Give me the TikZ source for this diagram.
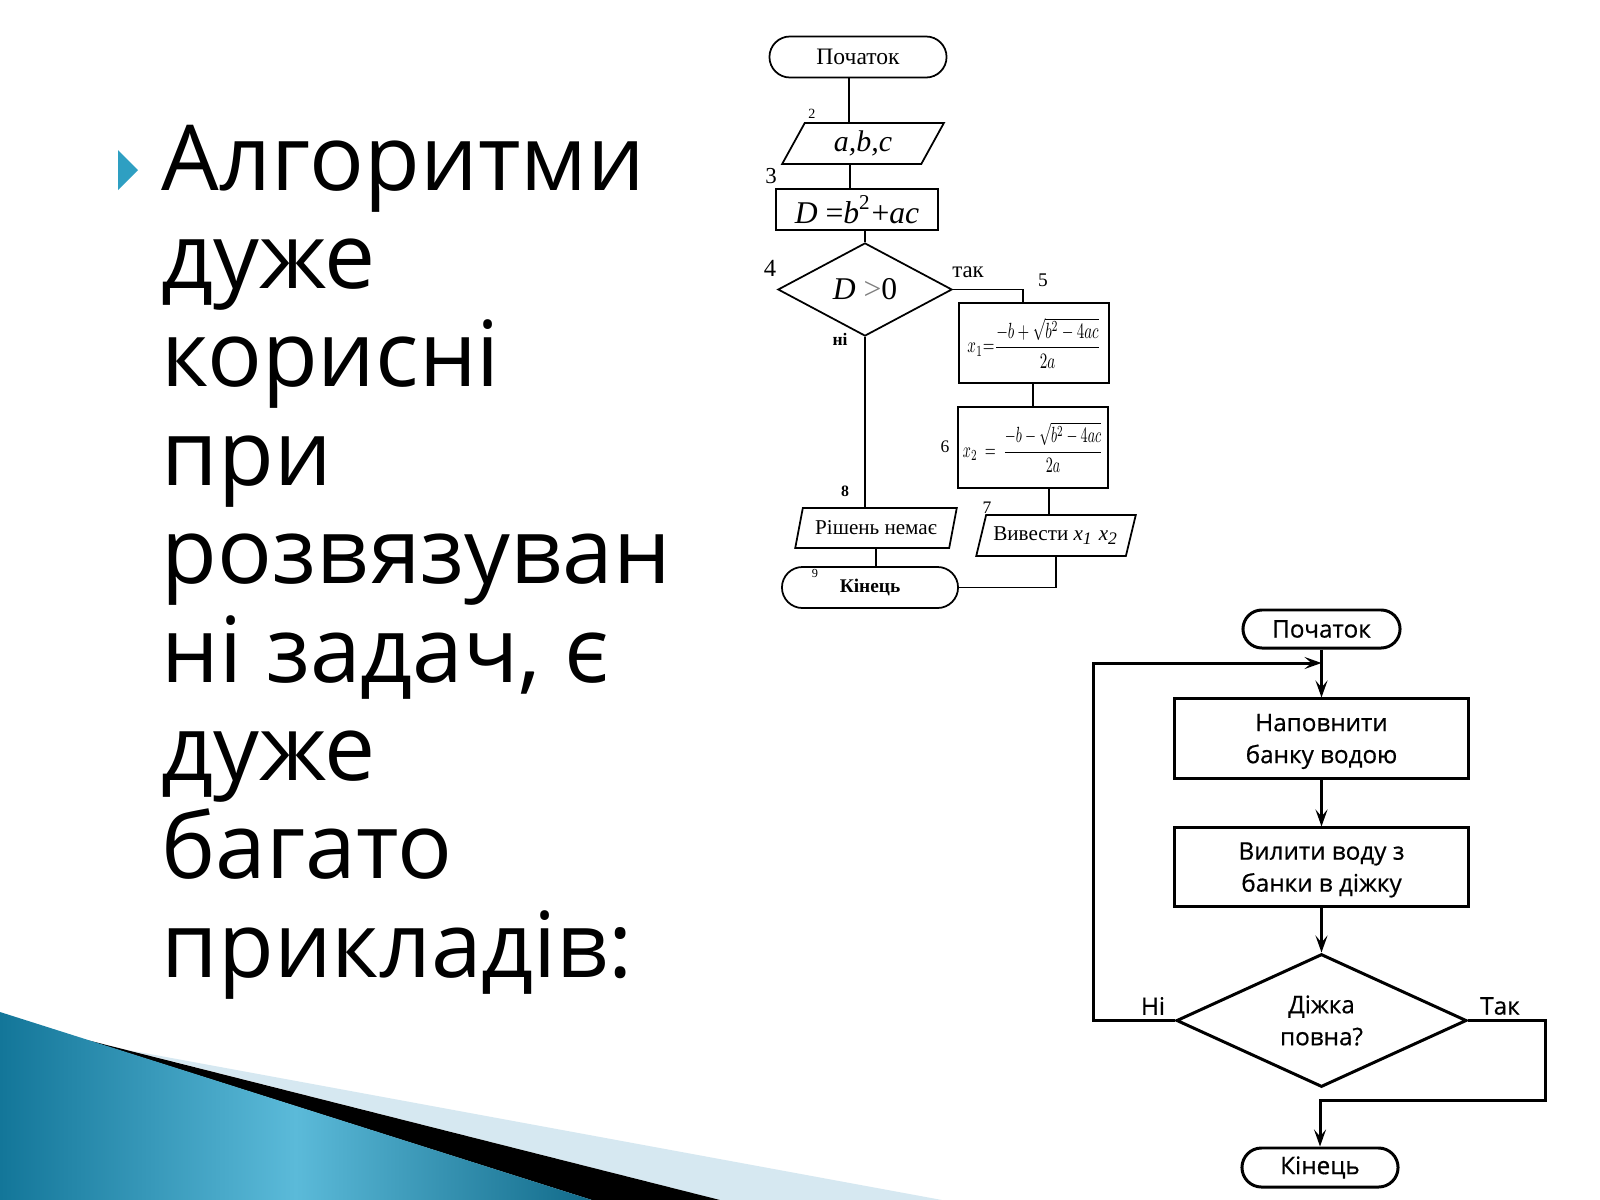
\documentclass[tikz,border=0pt]{standalone}
\usepackage{fontspec}
\setmainfont{Liberation Serif}
\newfontfamily\osans{Open Sans}
\newfontfamily\osansb{Open Sans}[FakeBold=0.6]
\usepackage{graphicx}
\usetikzlibrary{shapes.geometric,shapes.misc,arrows.meta,calc}
\definecolor{bulletc}{HTML}{2E9FC2}
\definecolor{swlight}{HTML}{D6E8F1}
\definecolor{swdark}{HTML}{137699}
\definecolor{swmid}{HTML}{5BBAD9}
\begin{document}
\begin{tikzpicture}[x=0.01cm, y=-0.01cm,
  bigtxt/.style={anchor=base west, inner sep=0pt, font=\osans\fontsize{25.9}{28}\selectfont},
  f1/.style={draw, line width=0.5pt, inner sep=0pt},
  f1line/.style={line width=0.55pt},
  term/.style={rounded rectangle},
  iobox/.style={trapezium, trapezium stretches=true},
  lab/.style={inner sep=0pt},
  f2/.style={draw, line width=0.85pt, inner sep=0pt, font=\osansb\fontsize{6.9}{9.1}\selectfont, align=center},
  f2line/.style={line width=0.85pt},
  arr/.style={-{Stealth[length=0.17cm,width=0.12cm,inset=0.07cm]}}
]
\useasboundingbox (0,0) rectangle (1600,1200);
\fill[white] (0,0) rectangle (1600,1200);

% decorative swoosh
\fill[swlight] (128,1050) -- (942,1200) -- (720,1200) -- cycle;
\fill[black] (87,1040) -- (720,1200) -- (592,1200) -- cycle;
\shade[left color=swdark, right color=swdark!90!black, middle color=swmid] (0,1012) -- (592,1200) -- (0,1200) -- cycle;

% bullet and text
\fill[bulletc] (118,150) -- (138,170) -- (118,190) -- cycle;
\node[bigtxt] (t1) at (161,190) {Алгоритми};
\node[bigtxt] (t2) at (161,288.4) {дуже};
\node[bigtxt] (t3) at (161,386.8) {корисні};
\node[bigtxt] (t4) at (161,485.2) {при};
\node[bigtxt] (t5) at (161,583.6) {розвязуван};
\node[bigtxt] (t6) at (161,682) {ні задач, є};
\node[bigtxt] (t7) at (161,780.4) {дуже};
\node[bigtxt] (t8) at (161,878.8) {багато};
\node[bigtxt] (t9) at (161,977.2) {прикладів:};

% ---------- flowchart 1 ----------
\node[f1, term, minimum width=1.77cm, minimum height=0.41cm, font=\fontsize{6.7}{8}\selectfont] (start1) at (858,57) {Початок};
\node[f1, iobox, trapezium left angle=66, trapezium right angle=114, minimum width=1.62cm, minimum height=0.41cm, font=\fontsize{8.5}{10}\selectfont] (abc) at (863,143.5) {\textit{a,b,c}};
\node[f1, minimum width=1.62cm, minimum height=0.41cm, font=\fontsize{9}{10}\selectfont] (boxD) at (857,209.5) {\textit{D} =\textit{b}\textsuperscript{2}+\textit{ac}};
\node[f1, diamond, minimum width=1.74cm, minimum height=0.93cm, font=\fontsize{9}{10}\selectfont] (dec1) at (865,289.5) {\textit{D} {\color{gray}>}0};
\node[f1, minimum width=1.50cm, minimum height=0.80cm] (box5) at (1034,343) {\resizebox*{1.33cm}{0.50cm}{$x_1{=}{\displaystyle\frac{-b+\sqrt{b^2-4ac}}{2a}}$}};
\node[f1, minimum width=1.50cm, minimum height=0.81cm] (box6) at (1033,447.5) {\resizebox*{1.40cm}{0.50cm}{$x_2\ =\ {\displaystyle\frac{-b-\sqrt{b^2-4ac}}{2a}}$}};
\node[f1, iobox, trapezium left angle=64, trapezium right angle=116, minimum width=1.60cm, minimum height=0.41cm, font=\fontsize{6}{7}\selectfont] (out7) at (1056,535.5) {Вивести \textit{x\textsubscript{1} x\textsubscript{2}}};
\node[f1, iobox, trapezium left angle=66, trapezium right angle=114, minimum width=1.62cm, minimum height=0.40cm, font=\fontsize{6}{7}\selectfont] (out8) at (876,528) {Рішень немає};
\node[f1, term, minimum width=1.76cm, minimum height=0.41cm, font=\bfseries\fontsize{5.5}{7}\selectfont] (end1) at (870,587.5) {Кінець};

\node[lab, font=\fontsize{4}{5}\selectfont] (l2) at (812,114) {2};
\node[lab, font=\fontsize{6.5}{7}\selectfont] (l3) at (771,176) {3};
\node[lab, font=\fontsize{7}{8}\selectfont] (l4) at (770,268) {4};
\node[lab, font=\fontsize{6.5}{7}\selectfont] (ltak) at (968,272) {так};
\node[lab, font=\fontsize{5.5}{6}\selectfont] (l5) at (1043,280) {5};
\node[lab, font=\fontsize{5}{6}\selectfont] (l6) at (945,447) {6};
\node[lab, font=\fontsize{5}{6}\selectfont] (l7) at (987,508) {7};
\node[lab, font=\bfseries\fontsize{5}{6}\selectfont] (lni) at (840,339) {ні};
\node[lab, font=\bfseries\fontsize{4.5}{5}\selectfont] (l8) at (845,491) {8};
\node[lab, font=\fontsize{3.5}{4}\selectfont] (l9) at (815,573) {9};

\path ($(start1.south)+(-9,0)$) coordinate (s1a);
\draw[f1line] (s1a) -- (s1a |- abc.north);
\path ($(abc.south)+(-13,0)$) coordinate (s2a);
\draw[f1line] (s2a) -- (s2a |- boxD.north);
\draw[f1line] (dec1.north) -- (dec1.north |- boxD.south);
\draw[f1line] (dec1.east) -| ($(box5.north)+(-11,0)$);
\draw[f1line] (box6.north) -- (box6.north |- box5.south);
\path ($(box6.south)+(16,0)$) coordinate (s6a);
\draw[f1line] (s6a) -- (s6a |- out7.north);
\draw[f1line] (dec1.south) -- (dec1.south |- out8.north);
\draw[f1line] (out8.south) -- (out8.south |- end1.north);
\draw[f1line] (out7.south) |- (end1.east);

% ---------- flowchart 2 ----------
\node[f2, term, minimum width=1.57cm, minimum height=0.38cm] (start2) at (1321.5,629) {Початок};
\node[f2, minimum width=2.93cm, minimum height=0.79cm, text depth=0pt] (box1) at (1321.5,738.5) {Наповнити\\банку водою};
\node[f2, minimum width=2.93cm, minimum height=0.78cm, text depth=0pt] (box2) at (1321.5,867) {Вилити воду з\\банки в діжку};
\node[f2, diamond, minimum width=2.90cm, minimum height=1.27cm] (dec2) at (1321.5,1020.5) {Діжка\\повна?};
\node[f2, term, minimum width=1.56cm, minimum height=0.39cm] (end2) at (1320,1167.5) {Кінець};
\node[lab, font=\osansb\fontsize{6.9}{8}\selectfont] (lni2) at (1153,1006) {Ні};
\node[lab, font=\osansb\fontsize{6.9}{8}\selectfont] (ltak2) at (1500,1006) {Так};

\coordinate (loopc) at (1093,663);
\coordinate (yesc) at (1545,1100);
\draw[f2line, arr] (start2.south) -- (box1.north);
\draw[f2line, arr] (box1.south) -- (box2.north);
\draw[f2line, arr] (box2.south) -- (dec2.north);
\draw[f2line, arr] (dec2.west) -| (loopc) -- (start2.south |- loopc);
\draw[f2line, arr] (dec2.east) -| (yesc) -- (end2.north |- yesc) -- (end2.north);
\end{tikzpicture}
\end{document}
